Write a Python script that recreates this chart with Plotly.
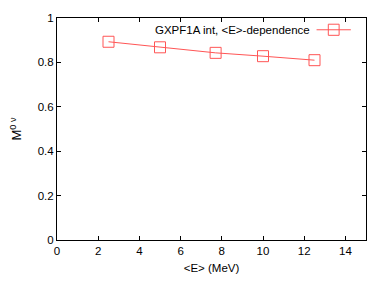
import plotly.graph_objects as go

energy = [2.5, 5.0, 7.7, 10.0, 12.5]
m0nu = [0.893, 0.868, 0.843, 0.828, 0.810]
series_name = "GXPF1A int, <E>-dependence"
x_ticks = [0, 2, 4, 6, 8, 10, 12, 14]
y_ticks = [0, 0.2, 0.4, 0.6, 0.8, 1]
y_tick_labels = ["0", "0.2", "0.4", "0.6", "0.8", "1"]

red = "rgb(255,85,85)"
font = dict(family="Liberation Sans, Arial, sans-serif", size=11.5, color="black")

fig = go.Figure()
fig.add_trace(go.Scatter(
    x=energy, y=m0nu, mode="lines+markers", name=series_name,
    line=dict(color=red, width=1),
    marker=dict(symbol="square-open", size=11, color=red, line=dict(width=1, color=red)),
    showlegend=False,
))

# gnuplot-style key: text then sample on the right
fig.add_annotation(xref="paper", yref="paper", x=0.826, y=0.947, xanchor="right", yanchor="middle",
                   text=series_name.replace("<", "&lt;").replace(">", "&gt;"), showarrow=False, font=font)
fig.add_shape(type="line", xref="paper", yref="paper", x0=0.84, x1=0.951, y0=0.947, y1=0.947,
              line=dict(color=red, width=1))
fig.add_shape(type="rect", xref="paper", yref="paper", x0=0.878, x1=0.913, y0=0.922, y1=0.972,
              line=dict(color=red, width=1), fillcolor="rgba(0,0,0,0)")

axis_common = dict(showline=True, linecolor="black", linewidth=1, mirror="ticks", ticks="inside",
                   ticklen=4, tickcolor="black", showgrid=False, zeroline=False, tickfont=font,
                   automargin=False)
fig.update_xaxes(range=[0, 15], tickvals=x_ticks, title=dict(text="&lt;E&gt; (MeV)", font=font, standoff=8),
                 **axis_common)
fig.update_yaxes(range=[0, 1], tickvals=y_ticks, ticktext=y_tick_labels,
                 title=dict(text="M<sup>0 ν</sup>", font=dict(family=font["family"], size=13, color="black"),
                            standoff=18), **axis_common)

fig.update_layout(width=374, height=275, margin=dict(l=49, r=16, t=10, b=43),
                  paper_bgcolor="white", plot_bgcolor="white", font=font)
fig.write_html("out.html")
